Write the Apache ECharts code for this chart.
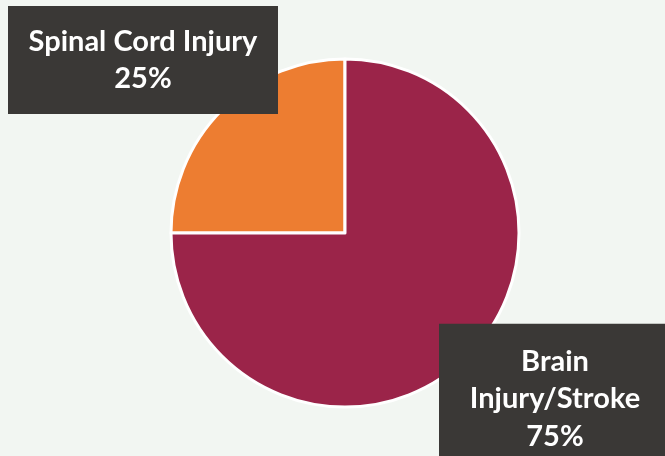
<!DOCTYPE html>
<html>
<head>
<meta charset="utf-8">
<script src="https://cdn.jsdelivr.net/npm/echarts@6/dist/echarts.min.js"></script>
<style>
    html,body{margin:0;padding:0;background:#f2f6f2}
    #main{width:665px;height:456px}
</style>
</head>
<body>
<div id="main"></div>
<script>
var names = ['Spinal Cord Injury','Brain\nInjury/Stroke'];
var values = [25,75];
var colors = ['#ed7d31','#9b2449'];

// label boxes sit in the corners
var boxPos = [
    {x:143,y:60,w:250,pad:[25,10,8,10]},
    {x:555,y:399,w:210,pad:[8,11,30,11]}
];

var data = [];
for(var i=0;i<names.length;i++){
    data.push({
        name:names[i],
        value:values[i],
        itemStyle:{color:colors[i]},
        label:{width:boxPos[i].w,padding:boxPos[i].pad}
    })
}

var myChart = echarts.init(document.getElementById('main'));
myChart.setOption({
    backgroundColor:'#f2f6f2',
    animation:false,
    series:{
        type:'pie',
        center:[345,233],
        radius:174,
        startAngle:90,
        clockwise:false,
        itemStyle:{borderColor:'#ffffff',borderWidth:3},
        label:{
            show:true,
            position:'outside',
            formatter:function(p){
                return p.name+'\n'+Math.round(p.percent)+'%'
            },
            color:'#ffffff',
            fontFamily:'Lato',
            fontWeight:'bold',
            fontSize:29,
            lineHeight:37.5,
            align:'center',
            backgroundColor:'#3a3836'
        },
        labelLine:{show:false},
        labelLayout:function(p){
            var b = boxPos[p.dataIndex];
            return {x:b.x,y:b.y,align:'center',verticalAlign:'middle'}
        },
        data:data
    }
})
</script>
</body>
</html>
